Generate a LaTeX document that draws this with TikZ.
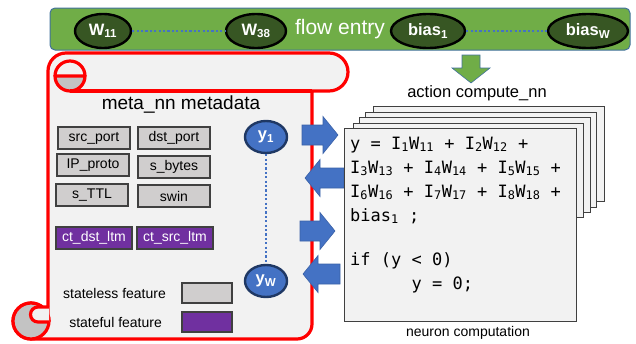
\documentclass[tikz,border=0pt]{standalone}
\usepackage{fontspec}
\setmainfont{Liberation Sans}
\newfontfamily\codefont{DejaVu Sans Mono}
\usetikzlibrary{arrows.meta,positioning,shapes.geometric}
\definecolor{entrygreen}{HTML}{70AD47}
\definecolor{entryedge}{HTML}{41719C}
\definecolor{weightgreen}{HTML}{375623}
\definecolor{nnblue}{HTML}{4472C4}
\definecolor{nnnavy}{HTML}{1F3864}
\definecolor{paper}{HTML}{F2F2F2}
\definecolor{curlgray}{HTML}{C3C3C3}
\definecolor{featgray}{HTML}{D0CECE}
\definecolor{featpurple}{HTML}{7030A0}
\definecolor{edgegray}{HTML}{404040}
\newcommand{\idx}[1]{\textsubscript{#1}}

\begin{document}
\begin{tikzpicture}[x=1pt,y=-1pt,
	weight/.style={ellipse,draw=black,line width=2.4pt,fill=weightgreen,text=white,inner sep=0pt,minimum height=34pt,font=\fontsize{16.5}{16.5}\selectfont\bfseries},
	yval/.style={ellipse,draw=nnnavy,line width=2.4pt,fill=nnblue,text=white,inner sep=0pt,minimum width=42pt,minimum height=32pt,font=\fontsize{16.5}{16.5}\selectfont\bfseries},
	feat/.style={rectangle,draw=edgegray,line width=1.2pt,fill=featgray,inner sep=0pt,minimum width=72pt,minimum height=22pt,font=\fontsize{14}{14}\selectfont},
	statefeat/.style={feat,fill=featpurple,text=white},
	card/.style={rectangle,draw=edgegray,fill=paper,line width=0.9pt},
	roll/.style={draw=red,line width=3.2pt,line join=round},
	blockarrow/.style={fill=nnblue,draw=nnblue!85!black,line width=0.6pt},
	dots/.style={nnblue,line width=2.6pt,dash pattern=on 2.2pt off 2.2pt}]
\useasboundingbox (0,0) rectangle (636,343);

% flow entry bar
\node[draw=entryedge,line width=1pt,fill=entrygreen,rounded corners=5pt,minimum width=580pt,minimum height=42pt,text=white,font=\fontsize{21}{21}\selectfont] (entry) at (340,29) {flow entry};
\node[weight,minimum width=56pt] (w11) at (103,31) {W\idx{11}};
\node[weight,minimum width=60pt] (w38) at (256,31) {W\idx{38}};
\node[weight,minimum width=74pt] (b1) at (428,31) {bias\idx{1}};
\node[weight,minimum width=80pt] (bw) at (588,31) {bias\idx{W}};
\draw[dots] (w11) -- (w38);
\draw[dots] (b1) -- (bw);
\filldraw[fill=entrygreen,draw=entryedge,line width=0.6pt] (462,55) -- (480,55) -- (480,68) -- (490,68) -- (471,83) -- (452,68) -- (462,68) -- cycle;

% scroll
\path[roll,fill=paper] (48,321) -- (48,71) arc[start angle=180,end angle=90,radius=18pt]
	-- (329,53) arc[start angle=90,end angle=-90,radius=19pt]
	-- (312,91) -- (312,324) arc[start angle=0,end angle=-90,radius=15pt]
	-- (31,339) arc[start angle=270,end angle=0,radius=18pt] -- cycle;
\draw[roll,fill=curlgray] (31,321) circle[radius=18pt];
\draw[roll,fill=paper] (49,307) -- (38,307) arc[start angle=90,end angle=270,radius=7.5pt] -- (49,322);
\draw[roll,fill=curlgray] (55,76) arc[start angle=180,end angle=360,radius=15pt] -- cycle;
\draw[roll] (55,76) arc[start angle=180,end angle=0,radius=15pt];
\draw[roll] (70,91) -- (312,91);
\node[font=\fontsize{19}{19}\selectfont] (meta) at (181,105) {meta\_nn metadata};

\node[feat] (sport) at (94,138) {src\_port};
\node[feat] (dport) at (174,138) {dst\_port};
\node[feat] (proto) at (93,165) {IP\_proto};
\node[feat] (sbytes) at (174,167) {s\_bytes};
\node[feat] (sttl) at (92,195) {s\_TTL};
\node[feat] (swin) at (174,196) {swin};
\node[statefeat,minimum width=76pt] (ctdst) at (94,238) {ct\_dst\_ltm};
\node[statefeat,minimum width=76pt] (ctsrc) at (175,238) {ct\_src\_ltm};

\node[feat,minimum width=50pt,minimum height=20pt] (lgray) at (207,293) {};
\node[statefeat,minimum width=50pt,minimum height=20pt] (lpurple) at (207,322) {};
\node[font=\fontsize{14}{14}\selectfont,left=12pt of lgray] (lgraytxt) {stateless feature};
\node[font=\fontsize{14}{14}\selectfont,left=16pt of lpurple] (lpurpletxt) {stateful feature};

\node[yval] (y1) at (266,137) {y\idx{1}};
\node[yval] (yw) at (266,281) {y\idx{W}};
\draw[dots] (y1) -- (yw);

% arrows in and out
\foreach \tx/\hx/\cy in {302/338/135, 344/305/178, 300/335/231, 340/303/274}{
	\pgfmathsetmacro\bx{\hx+15*sign(\tx-\hx)}
	\filldraw[blockarrow] (\tx,\cy-10) -- (\bx,\cy-10) -- (\bx,\cy-18.5) -- (\hx,\cy) -- (\bx,\cy+18.5) -- (\bx,\cy+10) -- (\tx,\cy+10) -- cycle;
}

% neuron cards
\node[font=\fontsize{16.5}{16.5}\selectfont] (act) at (477,93) {action compute\_nn};
\foreach \l/\t/\r/\b in {373/106/604/201, 365/112/596/207, 359/117/590/212, 353/123/583/217}
	\draw[card] (\l,\t) rectangle (\r,\b);
\node[card,minimum width=232pt,minimum height=193pt,inner sep=0pt] (neuron) at (460,224.5) {};
\node[font=\codefont\fontsize{17}{24}\selectfont,align=left,anchor=north west,inner sep=0pt] (code) at (350,136.5)
	{y = I\idx{1}W\idx{11} + I\idx{2}W\idx{12} +\\
	I\idx{3}W\idx{13} + I\idx{4}W\idx{14} + I\idx{5}W\idx{15} +\\
	I\idx{6}W\idx{16} + I\idx{7}W\idx{17} + I\idx{8}W\idx{18} +\\
	bias\idx{1} ;\\[20pt]
	if (y < 0)\\
	\phantom{000000}y = 0;};
\node[font=\fontsize{14}{14}\selectfont] (cap) at (468,333) {neuron computation};
\end{tikzpicture}
\end{document}
